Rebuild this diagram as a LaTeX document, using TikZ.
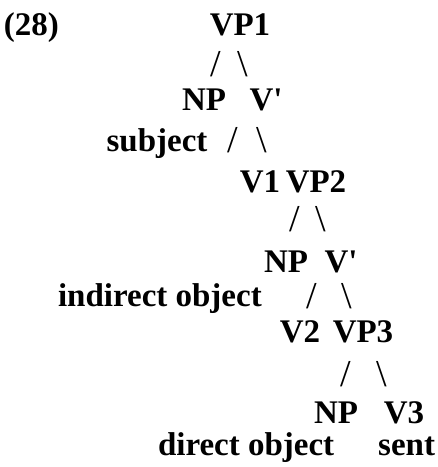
\documentclass[tikz,border=0pt]{standalone}
\usepackage{fontspec}
\setmainfont{Liberation Serif}
\begin{document}
\begin{tikzpicture}[x=1pt,y=-1pt,
  lbl/.style={anchor=base,inner sep=0pt,outer sep=0pt,
    font=\fontsize{33}{36}\selectfont\bfseries},
  slash/.style={lbl,font=\fontsize{38}{40}\selectfont}]
\useasboundingbox (0,0) rectangle (438,467);
% example number
\node[lbl,anchor=base west] (num) at (4,35) {(28)};
% level 1
\node[lbl] (vp1) at (240,35) {VP1};
\node[slash] (s1l) at (216,76) {/};
\node[slash] (s1r) at (243,76) {\textbackslash};
\node[lbl] (np1) at (204,110) {NP};
\node[lbl] (vb1) at (266,110) {V\textquotesingle};
\node[lbl] (subj) at (157,151) {subject};
\node[slash] (s2l) at (233,152) {/};
\node[slash] (s2r) at (262,152) {\textbackslash};
% level 2
\node[lbl] (v1) at (260,192) {V1};
\node[lbl] (vp2) at (316,192) {VP2};
\node[slash] (s3l) at (295,231) {/};
\node[slash] (s3r) at (321,231) {\textbackslash};
\node[lbl] (np2) at (286,272) {NP};
\node[lbl] (vb2) at (341,272) {V\textquotesingle};
\node[lbl,anchor=base west] (iobj) at (58,306) {indirect object};
\node[slash] (s4l) at (312,308) {/};
\node[slash] (s4r) at (347,308) {\textbackslash};
% level 3
\node[lbl] (v2) at (300,342) {V2};
\node[lbl] (vp3) at (363,342) {VP3};
\node[slash] (s5l) at (346,386) {/};
\node[slash] (s5r) at (382,386) {\textbackslash};
\node[lbl] (np3) at (336,423) {NP};
\node[lbl] (v3) at (404,423) {V3};
\node[lbl,anchor=base west] (dobj) at (158,455) {direct object};
\node[lbl,anchor=base east] (sent) at (435,455) {sent};
\end{tikzpicture}
\end{document}
